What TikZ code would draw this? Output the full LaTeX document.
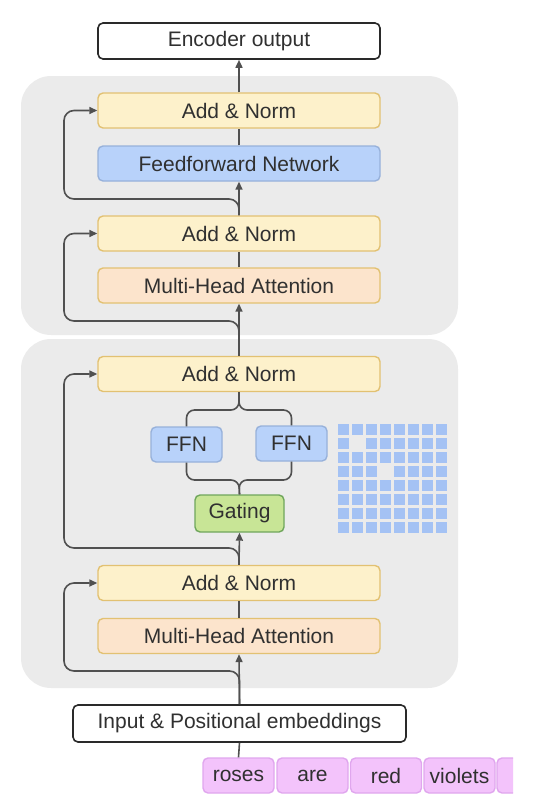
\documentclass[tikz,border=0pt]{standalone}
\usepackage{fontspec}
\setmainfont{Liberation Sans}
\usepackage{tikz}
\usetikzlibrary{arrows.meta}
\usetikzlibrary{calc}
\usepackage{xcolor}
\definecolor{panelGray}{HTML}{EBEBEB}
\definecolor{lineGray}{HTML}{505050}
\definecolor{textGray}{HTML}{303030}
\definecolor{boxBlack}{HTML}{2A2A2A}
\definecolor{normFill}{HTML}{FDF1CB}
\definecolor{normDraw}{HTML}{E2C172}
\definecolor{attnFill}{HTML}{FCE4CC}
\definecolor{ffnFill}{HTML}{B8D2FA}
\definecolor{ffnDraw}{HTML}{97B1DA}
\definecolor{gateFill}{HTML}{C8E596}
\definecolor{gateDraw}{HTML}{6FA65C}
\definecolor{tokFill}{HTML}{F3C3FB}
\definecolor{tokDraw}{HTML}{E0A6EE}
\definecolor{cellBlue}{HTML}{A4C2F4}
\tikzset{
  blk/.style={rounded corners=5pt, line width=1.4pt, minimum width=282pt,
    minimum height=35pt, inner sep=0pt, text=textGray,
    font=\fontsize{21}{24}\selectfont},
  norm/.style={blk, fill=normFill, draw=normDraw},
  attn/.style={blk, fill=attnFill, draw=normDraw},
  ffn/.style={blk, fill=ffnFill, draw=ffnDraw},
  small ffn/.style={ffn, minimum width=71pt},
  gate/.style={blk, fill=gateFill, draw=gateDraw, minimum width=89pt, minimum height=37pt},
  io/.style={blk, fill=white, draw=boxBlack, line width=1.6pt, minimum height=36pt},
  tok/.style={blk, fill=tokFill, draw=tokDraw, minimum width=71pt},
  flow/.style={line width=1.6pt, draw=lineGray},
  arr/.style={flow, -{Triangle[length=8pt,width=7pt]}},
  res/.style={arr, rounded corners=10pt},
  panel/.style={fill=panelGray, rounded corners=30pt},
  cell/.style={fill=cellBlue},
}

\begin{document}
\begin{tikzpicture}[x=1pt,y=-1pt]
\useasboundingbox (0,0) rectangle (538,809);

%%%%%%%%%%%%%%%%%%%%%%%%%%%%%%%%%%%%%%%%%%%%%%%%%%%%%%%%%%%%%% Panels
\fill[panel] (21,76) rectangle (458,335);
\fill[panel] (21,339) rectangle (458,688);

%%%%%%%%%%%%%%%%%%%%%%%%%%%%%%%%%%%%%%%%%%%%%%%%%%%%%%%%%%%%%% Blocks
\node[io] (out) at (239,41) {Encoder output};

% dense layer
\node[norm] (an1) at (239,110.5) {Add \& Norm};
\node[ffn] (ff) at (239,163.5) {Feedforward Network};
\node[norm] (an2) at (239,233.5) {Add \& Norm};
\node[attn] (mha1) at (239,285.5) {Multi-Head Attention};

% moe layer
\node[norm] (an3) at (239,374) {Add \& Norm};
\node[small ffn] (ffl) at (186.5,444.5) {FFN};
\node[small ffn] (ffr) at (291.5,443.5) {FFN};
\node[gate] (gate) at (239.5,513.5) {Gating};
\node[norm] (an4) at (239,583) {Add \& Norm};
\node[attn] (mha2) at (239,636) {Multi-Head Attention};

\node[io, minimum width=333pt, minimum height=37pt] (inp) at (239.5,723.5) {Input \& Positional embeddings};

% tokens
\node[tok] (roses) at (238.5,775.5) {roses};
\node[tok] (are) at (312.5,775.5) {are};
\node[tok] (red) at (386,775.5) {red};
\node[tok] (violets) at (459.5,775.5) {violets};
\begin{scope}
\clip (0,0) rectangle (513,809);
\node[tok] (more) at (532.5,775.5) {};
\end{scope}

% experts grid
\foreach \i in {0,...,7}
  \foreach \j in {0,...,7} {
    \pgfmathtruncatemacro\hole{and(\i==\j, or(\i==1,\i==3))}
    \ifnum\hole=0
      \fill[cell] (338+14*\i,424+14*\j) rectangle ++(11,11);
    \fi
  }

%%%%%%%%%%%%%%%%%%%%%%%%%%%%%%%%%%%%%%%%%%%%%%%%%%%%%%%%%%%%%% Connectors
\coordinate (r1) at (64,199);
\coordinate (r2) at (64,321);
\coordinate (r3) at (64,548);
\coordinate (r4) at (64,671);
\coordinate (b1) at (239,410);
\coordinate (b2) at (239,480);

\draw[arr] (an1.north) -- (out.south);
\draw[flow] (ff.north) -- (an1.south);
\draw[arr] (an2.north) -- (ff.south);
\draw[res] (an2.north) |- (r1) |- (an1.west);
\draw[flow] (mha1.north) -- (an2.south);
\draw[arr] (an3.north) -- (mha1.south);
\draw[res] (an3.north) |- (r2) |- (an2.west);

% split and merge round the experts
\draw[flow, rounded corners=8pt] (ffl.north) |- (b1) -- (an3.south);
\draw[flow, rounded corners=8pt] (ffr.north) |- (b1) -- (an3.south);
\draw[flow, rounded corners=8pt] (ffl.south) |- (b2) -- (gate.north);
\draw[flow, rounded corners=8pt] (ffr.south) |- (b2) -- (gate.north);

\draw[arr] (an4.north) -- (gate.south);
\draw[res] (an4.north) |- (r3) |- (an3.west);
\draw[flow] (mha2.north) -- (an4.south);
\draw[arr] (inp.north) -- (mha2.south);
\draw[res] (inp.north) |- (r4) |- (an4.west);
\draw[flow] (inp.south) -- (roses.north);

\end{tikzpicture}
\end{document}
